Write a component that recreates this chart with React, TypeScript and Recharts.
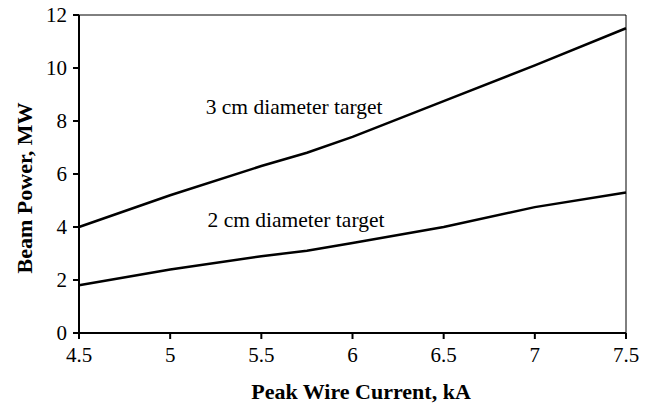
import { LineChart, Line, XAxis, YAxis, ReferenceLine, ReferenceDot } from 'recharts'

// Peak wire current (kA) and beam power (MW)
const current = [4.5, 5, 5.5, 5.75, 6, 6.5, 7, 7.5]
const power3cm = [4.0, 5.2, 6.3, 6.8, 7.4, 8.75, 10.1, 11.5]
const power2cm = [1.8, 2.4, 2.9, 3.1, 3.4, 4.0, 4.75, 5.3]

const xTicks = [4.5, 5, 5.5, 6, 6.5, 7, 7.5]
const yTicks = [0, 2, 4, 6, 8, 10, 12]

const FONT = 'Liberation Serif'
const INK = '#000000'

const data = current.map((c, i) => ({
  current: c,
  target3: power3cm[i],
  target2: power2cm[i],
}))

const tickStyle = { fill: INK, fontSize: 21, fontFamily: FONT }

export default function App() {
  return (
    <div style={{ position: 'absolute', left: 0, top: 0, width: 654, height: 404, background: '#fff', overflow: 'hidden' }}>
      <LineChart
        width={654}
        height={404}
        data={data}
        margin={{ top: 15, right: 28, left: 39, bottom: 41 }}
      >
        <XAxis
          dataKey="current"
          type="number"
          domain={[4.5, 7.5]}
          ticks={xTicks}
          height={30}
          axisLine={{ stroke: INK, strokeWidth: 2 }}
          tickLine={{ stroke: INK, strokeWidth: 2 }}
          tickSize={6}
          tickMargin={8}
          tick={tickStyle}
          label={{
            content: () => (
              <text
                x={361}
                y={399}
                textAnchor="middle"
                fill={INK}
                fontSize={22}
                fontWeight="bold"
                fontFamily={FONT}
              >
                Peak Wire Current, kA
              </text>
            ),
          }}
        />
        <YAxis
          type="number"
          domain={[0, 12]}
          ticks={yTicks}
          width={40}
          axisLine={{ stroke: INK, strokeWidth: 2 }}
          tickLine={{ stroke: INK, strokeWidth: 2 }}
          tickSize={6}
          tickMargin={6}
          tick={tickStyle}
          label={{
            content: () => (
              <text
                x={32}
                y={188}
                transform="rotate(-90 32 188)"
                textAnchor="middle"
                fill={INK}
                fontSize={22}
                fontWeight="bold"
                fontFamily={FONT}
              >
                Beam Power, MW
              </text>
            ),
          }}
        />
        {/* thin frame on top and right */}
        <ReferenceLine y={12} stroke={INK} strokeWidth={1} />
        <ReferenceLine x={7.5} stroke={INK} strokeWidth={1} />

        <Line
          type="linear"
          dataKey="target3"
          stroke={INK}
          strokeWidth={2.5}
          dot={false}
          isAnimationActive={false}
        />
        <Line
          type="linear"
          dataKey="target2"
          stroke={INK}
          strokeWidth={2.5}
          dot={false}
          isAnimationActive={false}
        />

        <ReferenceDot
          x={5.68}
          y={8.57}
          r={0}
          stroke="none"
          label={{ value: '3 cm diameter target', position: 'center', fill: INK, fontSize: 21.5, fontFamily: FONT }}
        />
        <ReferenceDot
          x={5.69}
          y={4.3}
          r={0}
          stroke="none"
          label={{ value: '2 cm diameter target', position: 'center', fill: INK, fontSize: 21.5, fontFamily: FONT }}
        />
      </LineChart>
    </div>
  )
}
